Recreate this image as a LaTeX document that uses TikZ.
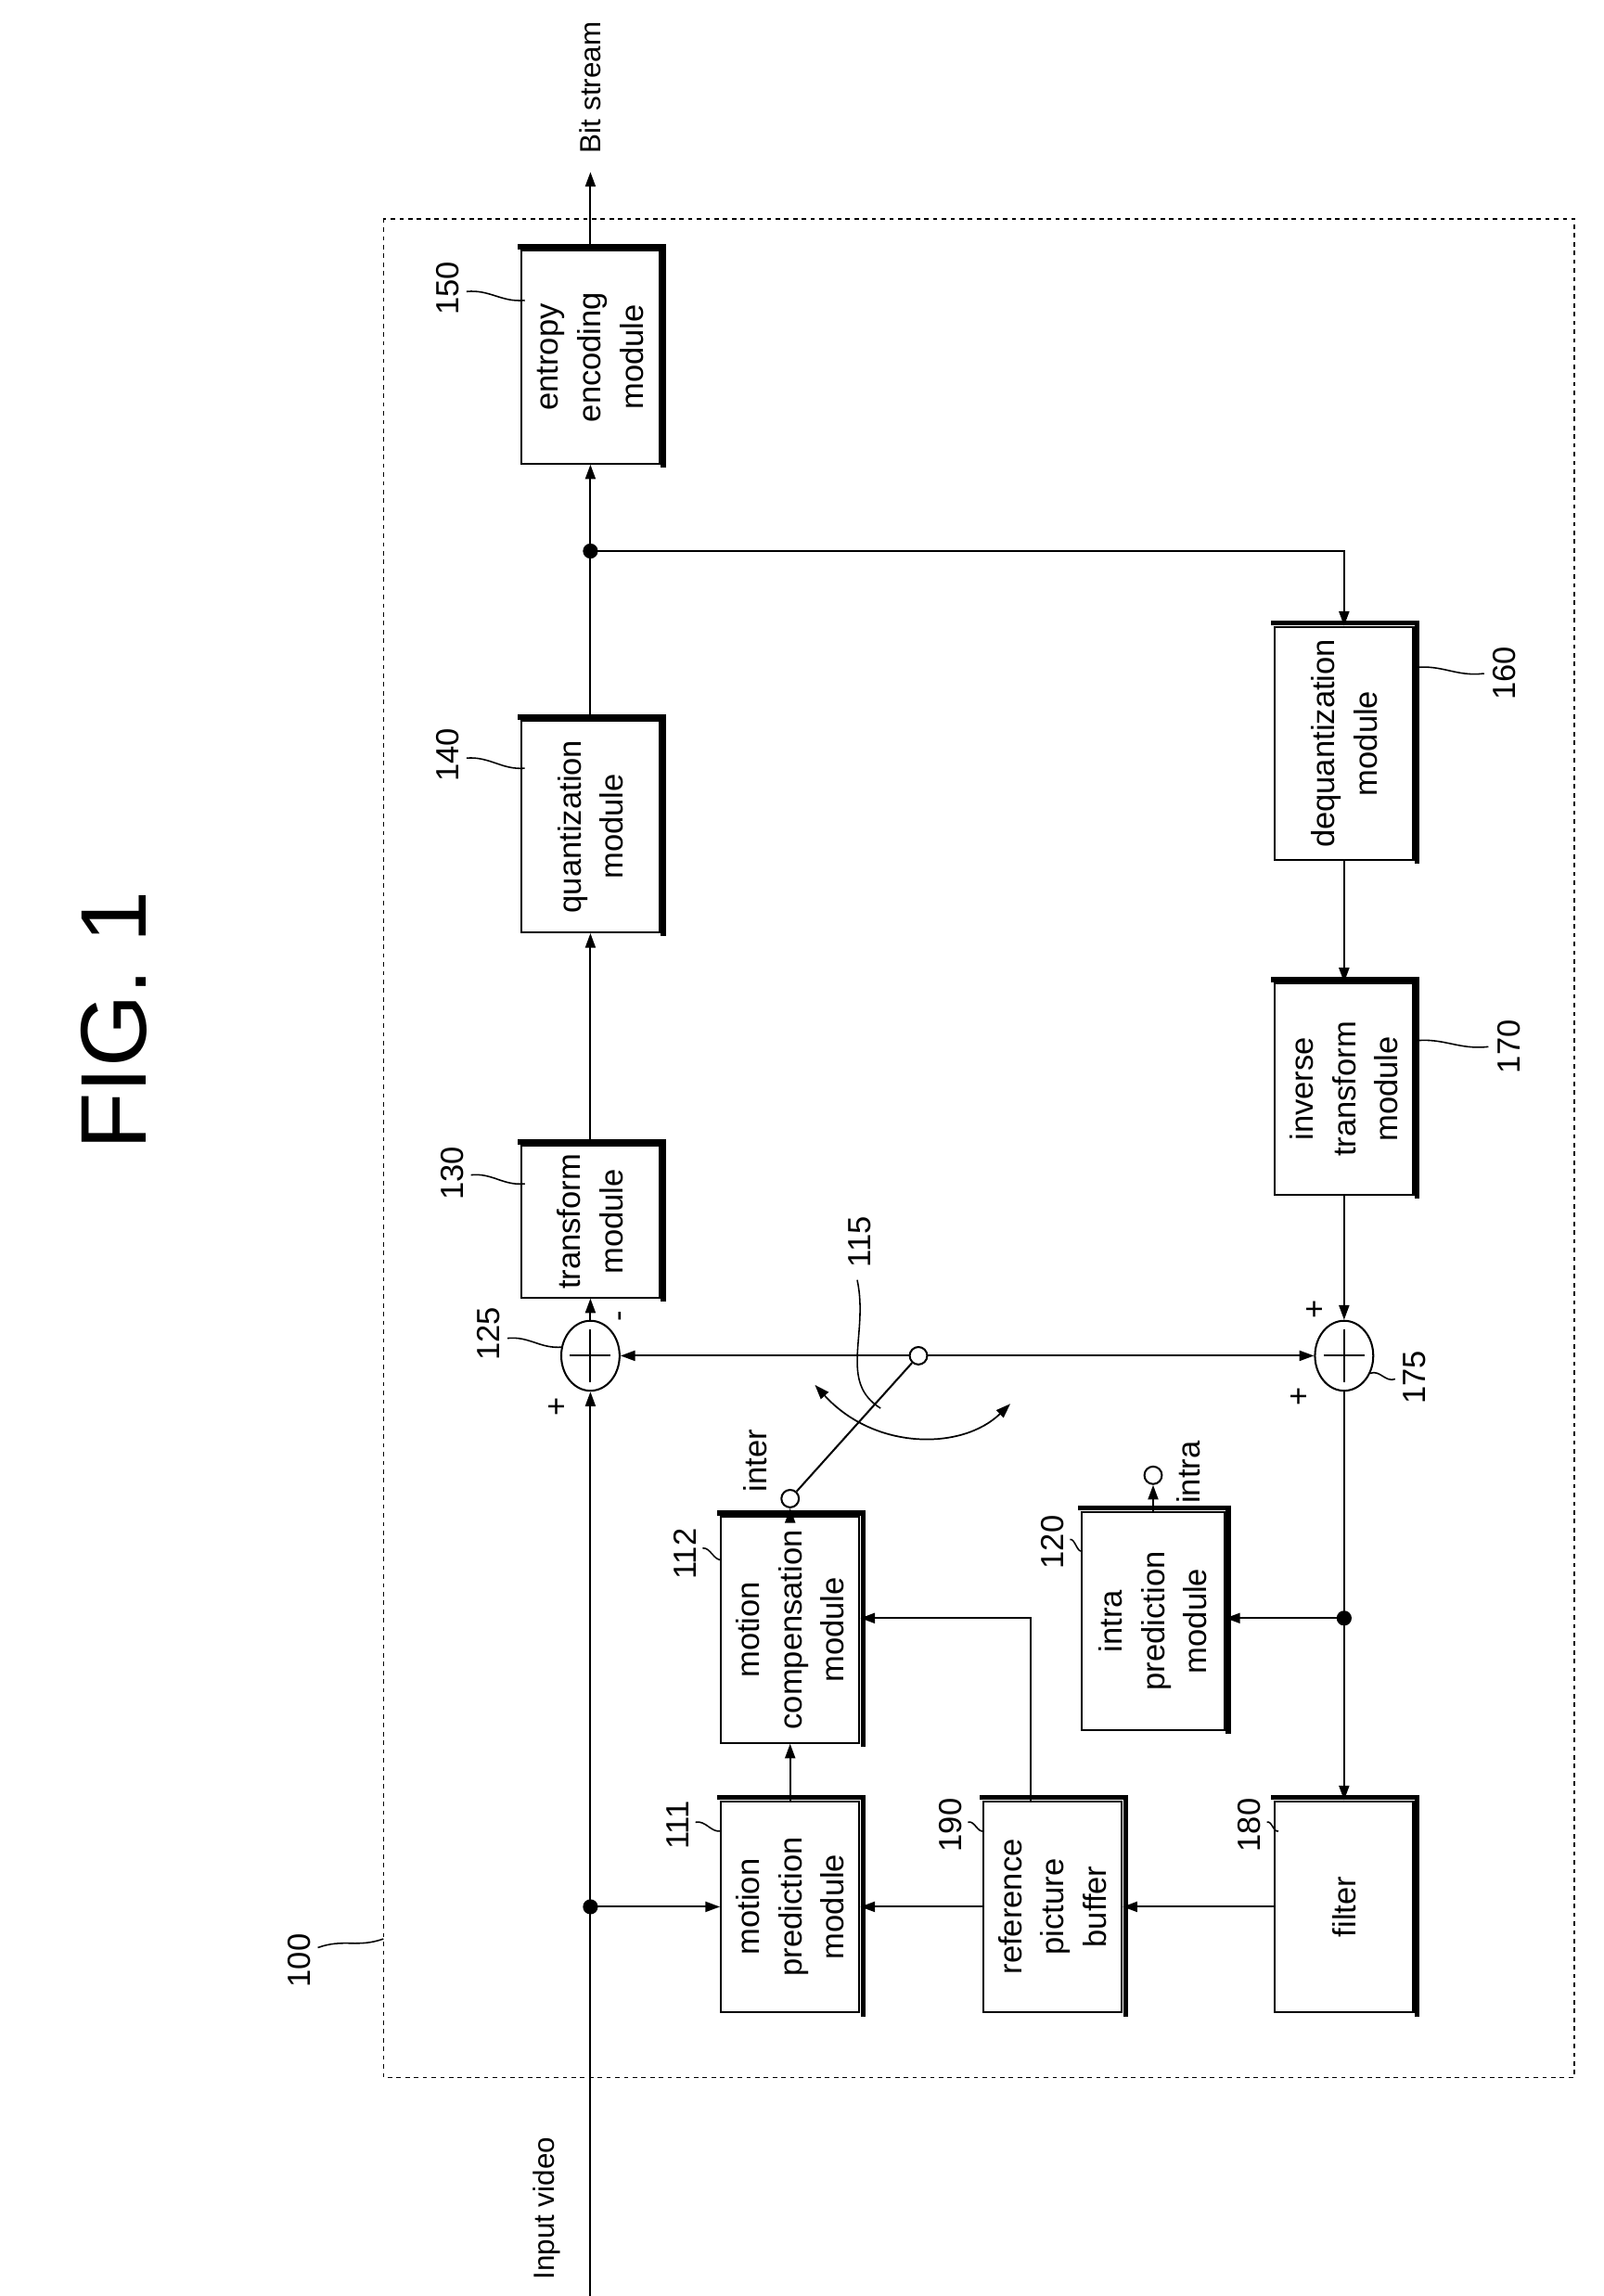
\documentclass[tikz,border=0pt]{standalone}
\usepackage{fontspec}
\setmainfont{Liberation Sans}
\usetikzlibrary{arrows.meta,shapes.geometric,calc}
\begin{document}
\begin{tikzpicture}[x=1pt,y=-1pt,line width=1.3pt,
  font=\fontsize{22}{29}\selectfont,
  >={Triangle[length=10pt,width=7pt]},
  box/.style 2 args={draw,rotate=90,align=center,inner sep=0pt,minimum width=#1pt,minimum height=#2pt},
  shad/.style={line width=3.5pt},
  txt/.style={rotate=90,inner sep=0pt},
  lead/.style={line width=1pt},
  add/.style={draw,ellipse,minimum width=40pt,minimum height=48pt,inner sep=0pt},
  sw/.style={draw,circle,minimum size=12pt,inner sep=0pt,fill=white},
  dot/.style={circle,fill,draw,minimum size=9pt,inner sep=0pt}]
\useasboundingbox (0,0) rectangle (1100,1575);
% border
\draw[dashed,line width=1pt] (263,150) rectangle (1080,1425);
\node[txt,font=\fontsize{64}{70}\selectfont] (fig) at (78,700) {FIG. 1};
% boxes
\node[box={146}{95}] (ent) at (405,245) {entropy\\encoding\\module};
\node[box={145}{95}] (q) at (405,567) {quantization\\module};
\node[box={104}{95}] (tr) at (405,838) {transform\\module};
\node[box={160}{95}] (deq) at (922,510) {dequantization\\module};
\node[box={145}{95}] (inv) at (922,747) {inverse\\transform\\module};
\node[box={155}{95}] (mc) at (542,1118) {motion\\compensation\\module};
\node[box={150}{98}] (ip) at (791,1112) {intra\\prediction\\module};
\node[box={145}{95}] (mp) at (542,1308) {motion\\prediction\\module};
\node[box={145}{95}] (rb) at (722,1308) {reference\\picture\\buffer};
\node[box={145}{95}] (fl) at (922,1308) {filter};
\foreach \n in {ent,q,tr,deq,inv,mc,ip,mp,rb,fl}
  \draw[shad] ([shift={(2,2)}]\n.south west) -- ([shift={(2,-2)}]\n.south east) -- ([shift={(-2,-2)}]\n.north east);
% adders
\node[add] (a1) at (405,930) {};
\node[add] (a2) at (922,930) {};
\foreach \n in {a1,a2}{
  \draw ($(\n)+(0,-18)$) -- ($(\n)+(0,18)$);
  \draw ($(\n)+(-14,0)$) -- ($(\n)+(14,0)$);}
% coordinates
\coordinate (in) at (405,1575);
\coordinate (bs) at (405,118);
\coordinate (j1) at (405,1308);
\coordinate (j2) at (405,378);
\coordinate (j3) at (922,1110);
\coordinate (k) at (707,1110);
\node[sw] (ci) at (542,1028) {};
\node[sw] (ca) at (791,1012) {};
\node[sw] (pv) at (630,930) {};
% main path
\draw[->] (in) -- (a1);
\draw[->] (j1) -- (mp);
\draw[->] (a1) -- (tr);
\draw[->] (tr) -- (q);
\draw (q) -- (j2);
\draw[->] (j2) -- (ent);
\draw[->] (ent) -- (bs);
\draw[->] (j2) -| (deq);
\draw[->] (deq) -- (inv);
\draw[->] (inv) -- (a2);
\draw (a2) -- (j3);
\draw[->] (j3) -- (fl);
\draw[->] (j3) -- (j3 -| ip.south);
\draw[->] (fl) -- (rb);
\draw[->] (rb) -- (mp);
\draw[->] (mp) -- (mc);
\draw[->] (rb.east -| k) -- (k) -- (k -| mc.south);
\draw[->] (mc) -- (ci);
\draw[->] (ip) -- (ca);
\draw (ci) -- (pv);
\draw[->] (pv) -- (a1);
\draw[->] (pv) -- (a2);
\node[dot] at (j1) {};
\node[dot] at (j2) {};
\node[dot] at (j3) {};
\draw[<->,line width=1.1pt] (559,950) .. controls (600,995) and (660,995) .. (693,963);
\draw[lead] (588,878) .. controls (596,915) and (575,948) .. (604,966);
% texts
\node[txt] at (590,852) {115};
\node[txt] at (518,1002) {inter};
\node[txt] at (815,1010) {intra};
\node[txt] at (383,965) {+};
\node[txt] at (428,903) {-};
\node[txt] at (903,898) {+};
\node[txt] at (892,958) {+};
\node[txt,font=\fontsize{20}{24}\selectfont] at (375,1515) {Input video};
\node[txt,font=\fontsize{20}{24}\selectfont] at (405,60) {Bit stream};
% reference labels
\node[txt] (l150) at (307,198) {150};
\node[txt] (l140) at (307,518) {140};
\node[txt] (l130) at (310,805) {130};
\node[txt] (l125) at (335,915) {125};
\node[txt] (l112) at (470,1066) {112};
\node[txt] (l111) at (465,1252) {111};
\node[txt] (l190) at (652,1252) {190};
\node[txt] (l180) at (857,1252) {180};
\node[txt] (l120) at (722,1058) {120};
\node[txt] (l160) at (1032,462) {160};
\node[txt] (l170) at (1035,718) {170};
\node[txt] (l175) at (970,945) {175};
\node[txt] (l100) at (205,1345) {100};
\foreach \a/\b/\c/\d in {320/200/360/206, 320/520/360/527, 323/806/360/812, 348/918/386/924,
  482/1062/495/1070, 477/1250/495/1256, 664/1250/675/1256, 869/1250/877/1256, 734/1056/742/1064,
  970/458/1018/462, 970/714/1021/718, 940/942/957/946, 218/1336/263/1330}
  \draw[lead] (\a,\b) .. controls ($(\a,\b)!0.4!(\c,\d)+(0,-4)$) and ($(\a,\b)!0.6!(\c,\d)+(0,4)$) .. (\c,\d);
\end{tikzpicture}
\end{document}
